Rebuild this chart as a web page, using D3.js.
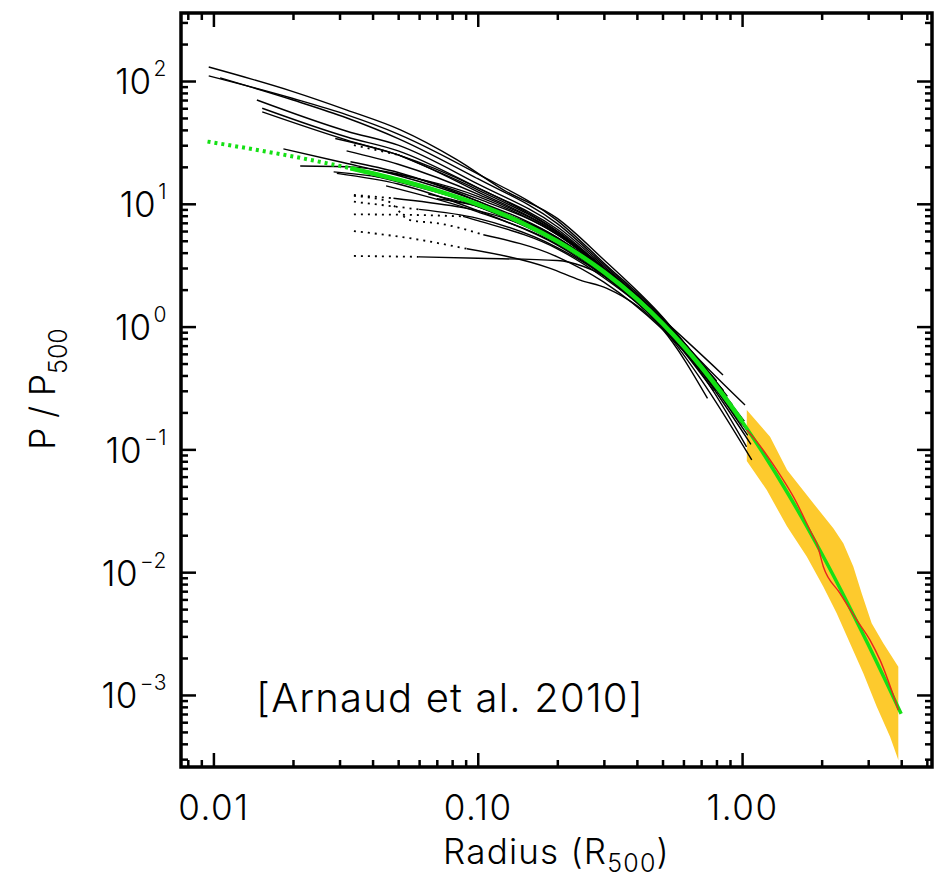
<!DOCTYPE html>
<html>
<head>
<meta charset="utf-8">
<script src="https://cdn.jsdelivr.net/npm/d3@7"></script>
<style>
  body { margin: 0; background: #fff; }
  text { font-family: Inter, "DejaVu Sans", sans-serif; font-weight: 300; }
</style>
</head>
<body>
<svg id="chart" width="945" height="878"></svg>
<script>
// ---- dados ----
// eixos
const xMajor = [0.01, 0.1, 1];
const xMajorLabels = ["0.01", "0.10", "1.00"];
const xMinor = [0.008, 0.009, 0.02, 0.03, 0.04, 0.05, 0.06, 0.07, 0.08, 0.09,
  0.2, 0.3, 0.4, 0.5, 0.6, 0.7, 0.8, 0.9, 2, 3, 4, 5];
const yMajor = [1e-3, 1e-2, 1e-1, 1, 10, 100];
const yExponents = ["\u22123", "\u22122", "\u22121", "0", "1", "2"];
const yMinor = [3e-4, 4e-4, 5e-4, 6e-4, 7e-4, 8e-4, 9e-4,
  2e-3, 3e-3, 4e-3, 5e-3, 6e-3, 7e-3, 8e-3, 9e-3,
  0.02, 0.03, 0.04, 0.05, 0.06, 0.07, 0.08, 0.09,
  0.2, 0.3, 0.4, 0.5, 0.6, 0.7, 0.8, 0.9,
  2, 3, 4, 5, 6, 7, 8, 9, 20, 30, 40, 50, 60, 70, 80, 90, 200, 300];

// perfis individuais (linhas pretas), pares [R/R500, P/P500]
const profiles = [
  [[0.0096,130],[0.02,82],[0.032,58],[0.051,40],[0.083,23],[0.125,13],[0.2,7.6],[0.3,3.5],[0.5,1.2],[0.7,0.5],[0.85,0.3]],
  [[0.0096,110],[0.02,72],[0.032,53],[0.05,37],[0.1,17.5],[0.2,7.3],[0.3,3.3],[0.5,1.18],[0.7,0.5],[0.88,0.27]],
  [[0.0106,106],[0.02,70],[0.032,50],[0.05,34],[0.1,16],[0.2,6.9],[0.3,3.2],[0.5,1.15],[0.8,0.36]],
  [[0.0146,70],[0.032,39],[0.05,30],[0.1,14.5],[0.2,6.5],[0.3,3.1],[0.5,1.12],[0.75,0.42]],
  [[0.0153,60],[0.032,35],[0.05,27],[0.1,13.5],[0.2,6.2],[0.3,3.0],[0.5,1.1],[0.85,0.3]],
  [[0.0153,56],[0.032,33],[0.05,25],[0.1,12.5],[0.2,5.8],[0.3,2.9],[0.5,1.07],[0.95,0.2]],
  [[0.0184,28],[0.03,22],[0.05,17],[0.1,10.5],[0.2,5.3],[0.3,2.8],[0.5,1.05],[1.0,0.16]],
  [[0.0213,20.3],[0.033,20],[0.05,17.5],[0.1,11],[0.2,5.6],[0.3,2.9],[0.5,1.1],[0.8,0.36]],
  [[0.0289,34],[0.05,25],[0.1,13.5],[0.2,6.0],[0.3,3.0],[0.5,1.12],[0.85,0.29]],
  [[0.0319,27],[0.05,21],[0.1,12],[0.2,5.7],[0.3,2.9],[0.5,1.08],[0.92,0.23]],
  [[0.033,22],[0.05,18],[0.1,10.5],[0.2,5.0],[0.3,2.75],[0.5,1.05],[1.02,0.17]],
  [[0.0285,18.2],[0.05,15.5],[0.1,9.5],[0.2,4.8],[0.3,2.7],[0.5,1.04],[1.05,0.14]],
  [[0.0293,17.7],[0.05,14.5],[0.1,8.8],[0.2,4.6],[0.3,2.6],[0.5,1.0],[0.95,0.19]],
  [[0.04,17],[0.1,9.8],[0.2,5.3],[0.3,2.85],[0.5,1.1],[1.05,0.13]],
  [[0.045,14],[0.1,8.6],[0.2,4.7],[0.3,2.7],[0.5,1.06],[1.08,0.11]],
  [[0.048,11.1],[0.083,9.5],[0.1,8.8],[0.2,4.9],[0.3,2.7],[0.5,1.05],[0.9,0.24]],
  [[0.06,9.0],[0.1,7.6],[0.2,4.4],[0.3,2.6],[0.5,1.02],[0.85,0.26]],
  [[0.088,7.9],[0.1,7.3],[0.2,4.3],[0.3,2.5],[0.5,1.0],[0.78,0.3]],
  [[0.091,4.3],[0.188,2.98],[0.244,2.39],[0.308,2.05],[0.5,0.95],[0.74,0.26]],
  [[0.0597,3.7],[0.1,3.6],[0.2,3.45],[0.25,3.1],[0.35,2.1],[0.5,1.05],[0.8,0.3]],
  [[0.05,25],[0.1,13],[0.2,5.9],[0.3,2.95],[0.5,1.1],[0.75,0.42]],
  [[0.105,5.6],[0.2,3.7],[0.3,2.3],[0.5,0.95],[0.85,0.27]],
  [[0.065,12],[0.1,9.5],[0.2,4.9],[0.3,2.6],[0.5,0.98],[0.7,0.37],[1.088,0.082]],
  [[0.07,11],[0.1,9.6],[0.2,5.2],[0.3,2.95],[0.5,1.15],[0.7,0.52],[1.026,0.23]],
  [[0.05,16],[0.1,9.6],[0.2,4.9],[0.3,2.7],[0.5,1.0],[0.7,0.42],[1.04,0.105]],
  [[0.04,19],[0.1,11.5],[0.2,5.6],[0.3,2.95],[0.5,1.15],[0.847,0.404]]
];

// extensões pontilhadas dos núcleos
const coreDots = [
  [[0.034,11.8],[0.048,11.1]],
  [[0.034,10.4],[0.06,9.0]],
  [[0.034,8.2],[0.06,8.1],[0.088,7.9]],
  [[0.034,6.0],[0.06,5.1],[0.091,4.3]],
  [[0.034,3.76],[0.0597,3.7]],
  [[0.034,30],[0.05,25]],
  [[0.034,11.6],[0.046,10.4],[0.055,7.4],[0.072,6.9],[0.105,5.6]]
];

// perfil universal (verde)
const greenCoreR = [0.0095, 0.015, 0.02, 0.033];
const greenCoreP = [32.1, 27.2, 24.3, 19.5];
const greenR = [0.033, 0.05, 0.07, 0.1, 0.15, 0.2, 0.25, 0.3, 0.4, 0.5, 0.6, 0.7, 0.85, 1.0, 1.2, 1.5, 2.0, 2.5, 3.0, 4.0];
const greenP = [19.5, 15.7, 12.8, 9.9, 6.85, 4.95, 3.68, 2.79, 1.68, 1.06, 0.696, 0.471, 0.275, 0.169, 0.0934, 0.0427, 0.0142, 0.00567, 0.00258, 0.000702];

// simulações: mediana (vermelho) e dispersão (faixa laranja)
const redR = [1.042, 1.137, 1.353, 1.563, 1.86, 1.916, 2.03, 2.347, 2.714, 3.048, 3.324, 3.90];
const redP = [0.144, 0.1156, 0.068, 0.0412, 0.01945, 0.01719, 0.01109, 0.00673, 0.00408, 0.0028, 0.00193, 0.000755];
const bandUpperR = [1.042, 1.276, 1.48, 1.86, 2.214, 2.415, 2.635, 2.834, 3.092, 3.422, 3.90];
const bandUpperP = [0.209, 0.127, 0.068, 0.0364, 0.0228, 0.0172, 0.0111, 0.00673, 0.00384, 0.00264, 0.0017];
const bandLowerR = [1.042, 1.24, 1.48, 1.756, 2.03, 2.28, 2.56, 2.875, 3.23, 3.63, 3.90];
const bandLowerP = [0.0804, 0.0467, 0.0235, 0.0134, 0.00762, 0.00462, 0.00264, 0.0015, 0.000804, 0.000457, 0.000296];

// ---- layout ----
const svg = d3.select("#chart");
const plotLeft = 181, plotRight = 932, plotTop = 13, plotBottom = 767;

const x = d3.scaleLog().domain([0.00754, 5.23]).range([plotLeft, plotRight]);
const y = d3.scaleLog().domain([2.59e-4, 358]).range([plotBottom, plotTop]);

const line = d3.line()
  .x(d => x(d[0]))
  .y(d => y(d[1]))
  .curve(d3.curveMonotoneX);

const zip = (rs, ps) => rs.map((r, i) => [r, ps[i]]);

// faixa laranja
const bandPts = zip(bandUpperR, bandUpperP).concat(zip(bandLowerR, bandLowerP).reverse());
svg.append("path")
  .attr("d", d3.line().x(d => x(d[0])).y(d => y(d[1])).curve(d3.curveLinearClosed)(bandPts))
  .attr("fill", "#fdca2d")
  .attr("stroke", "none");

// perfis pretos
svg.append("g").selectAll("path")
  .data(profiles)
  .enter()
  .append("path")
  .attr("d", line)
  .attr("fill", "none")
  .attr("stroke", "#000")
  .attr("stroke-width", 1.4);

svg.append("g").selectAll("path")
  .data(coreDots)
  .enter()
  .append("path")
  .attr("d", line)
  .attr("fill", "none")
  .attr("stroke", "#000")
  .attr("stroke-width", 1.8)
  .attr("stroke-dasharray", "2,5");

// perfil universal
svg.append("path")
  .attr("d", line(zip(greenCoreR, greenCoreP)))
  .attr("fill", "none")
  .attr("stroke", "#14e014")
  .attr("stroke-width", 4)
  .attr("stroke-dasharray", "3,4");

const greenPts = zip(greenR, greenP);
svg.append("path")
  .attr("d", line(greenPts))
  .attr("fill", "none")
  .attr("stroke", "#14e014")
  .attr("stroke-width", 3.5);
svg.append("path")
  .attr("d", line(greenPts.filter(d => d[0] <= 1.0)))
  .attr("fill", "none")
  .attr("stroke", "#14e014")
  .attr("stroke-width", 4.5);

svg.append("path")
  .attr("d", line(zip(redR, redP)))
  .attr("fill", "none")
  .attr("stroke", "#e8241c")
  .attr("stroke-width", 1.4);

// ---- eixos ----
function styleAxis(g) {
  g.select(".domain").remove();
  g.selectAll(".tick line").attr("stroke", "#000").attr("stroke-width", 2.5);
  g.attr("font-family", null).attr("font-size", 35).attr("letter-spacing", 1.5);
}

const noLabel = () => "";

// minor
svg.append("g").attr("transform", `translate(0,${plotBottom})`)
  .call(d3.axisBottom(x).tickValues(xMinor).tickSize(-7).tickFormat(noLabel)).call(styleAxis);
svg.append("g").attr("transform", `translate(0,${plotTop})`)
  .call(d3.axisTop(x).tickValues(xMinor).tickSize(-7).tickFormat(noLabel)).call(styleAxis);
svg.append("g").attr("transform", `translate(${plotLeft},0)`)
  .call(d3.axisLeft(y).tickValues(yMinor).tickSize(-7).tickFormat(noLabel)).call(styleAxis);
svg.append("g").attr("transform", `translate(${plotRight},0)`)
  .call(d3.axisRight(y).tickValues(yMinor).tickSize(-7).tickFormat(noLabel)).call(styleAxis);

// major
svg.append("g").attr("transform", `translate(0,${plotBottom})`)
  .call(d3.axisBottom(x).tickValues(xMajor).tickSize(-14).tickPadding(28)
    .tickFormat((d, i) => xMajorLabels[i]))
  .call(styleAxis);
svg.append("g").attr("transform", `translate(0,${plotTop})`)
  .call(d3.axisTop(x).tickValues(xMajor).tickSize(-14).tickFormat(noLabel)).call(styleAxis);
svg.append("g").attr("transform", `translate(${plotRight},0)`)
  .call(d3.axisRight(y).tickValues(yMajor).tickSize(-15).tickFormat(noLabel)).call(styleAxis);

const yAxisG = svg.append("g").attr("transform", `translate(${plotLeft},0)`)
  .call(d3.axisLeft(y).tickValues(yMajor).tickSize(-15).tickPadding(14).tickFormat(noLabel))
  .call(styleAxis);
yAxisG.attr("letter-spacing", 0.5);
yAxisG.selectAll(".tick text").attr("dy", "0.37em").each(function(d, i) {
  const t = d3.select(this);
  t.append("tspan").text("10");
  t.append("tspan").attr("dx", 2).attr("dy", -18).attr("font-size", 21).text(yExponents[i]);
});

// moldura
svg.append("rect")
  .attr("x", plotLeft).attr("y", plotTop)
  .attr("width", plotRight - plotLeft).attr("height", plotBottom - plotTop)
  .attr("fill", "none")
  .attr("stroke", "#000")
  .attr("stroke-width", 3.5);

// títulos dos eixos
const xTitle = svg.append("text")
  .attr("x", (plotLeft + plotRight) / 2).attr("y", 864)
  .attr("text-anchor", "middle").attr("font-size", 35).attr("letter-spacing", 1.2);
xTitle.append("tspan").text("Radius  (R");
xTitle.append("tspan").attr("dy", 8).attr("font-size", 25).text("500");
xTitle.append("tspan").attr("dy", -8).text(")");

const yTitle = svg.append("text")
  .attr("transform", "translate(55,389) rotate(-90)")
  .attr("text-anchor", "middle").attr("font-size", 35);
yTitle.append("tspan").text("P / P");
yTitle.append("tspan").attr("dy", 12).attr("font-size", 25).text("500");

// referência
svg.append("text")
  .attr("x", 256).attr("y", 712)
  .attr("font-size", 40)
  .attr("letter-spacing", 1.2)
  .text("[Arnaud et al. 2010]");
</script>
</body>
</html>
